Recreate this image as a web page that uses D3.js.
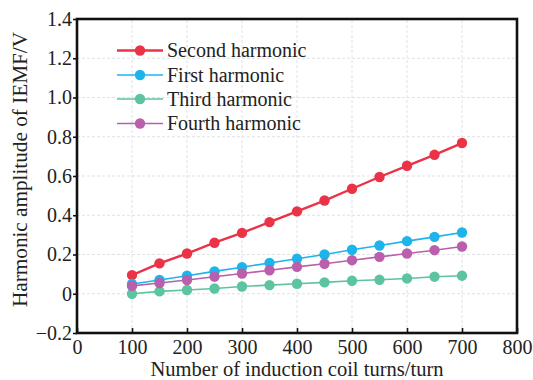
<!DOCTYPE html>
<html>
<head>
<meta charset="utf-8">
<script src="https://cdn.jsdelivr.net/npm/d3@7"></script>
<style>
  html, body { margin: 0; padding: 0; background: #fff; }
  svg { display: block; }
</style>
</head>
<body>
<svg id="chart" width="533" height="380"></svg>
<script>
// Coil turns on the x axis
const turns = [100, 150, 200, 250, 300, 350, 400, 450, 500, 550, 600, 650, 700];

// Harmonic amplitudes of the induced EMF (V)
const secondHarmonic = [0.095, 0.155, 0.205, 0.26, 0.31, 0.365, 0.42, 0.475, 0.535, 0.595, 0.652, 0.708, 0.768];
const firstHarmonic  = [0.05, 0.07, 0.092, 0.114, 0.135, 0.157, 0.178, 0.2, 0.224, 0.246, 0.268, 0.29, 0.312];
const thirdHarmonic  = [0.0, 0.012, 0.019, 0.027, 0.037, 0.044, 0.051, 0.058, 0.066, 0.071, 0.078, 0.087, 0.092];
const fourthHarmonic = [0.04, 0.055, 0.07, 0.087, 0.103, 0.12, 0.137, 0.153, 0.171, 0.188, 0.205, 0.222, 0.241];

const seriesNames  = ["Second harmonic", "First harmonic", "Third harmonic", "Fourth harmonic"];
const seriesValues = [secondHarmonic, firstHarmonic, thirdHarmonic, fourthHarmonic];
const seriesColors = ["#ea3346", "#1db4eb", "#5cc49f", "#b95fab"];
const seriesWidths = [2.4, 1.6, 1.6, 1.6];

const xTicks = [0, 100, 200, 300, 400, 500, 600, 700, 800];
const yTicks = [-0.2, 0, 0.2, 0.4, 0.6, 0.8, 1.0, 1.2, 1.4];

const FONT = "'Liberation Serif', 'Times New Roman', serif";
const margin = { left: 77, right: 16, top: 19, bottom: 47 };
const W = 533, H = 380;

const svg = d3.select("#chart");

const x = d3.scaleLinear().domain([0, 800]).range([margin.left, W - margin.right]);
const y = d3.scaleLinear().domain([-0.2, 1.4]).range([H - margin.bottom, margin.top]);

const fmtY = v => (v === 0 ? "0" : (v < 0 ? "\u2212" + Math.abs(v).toFixed(1) : v.toFixed(1)));

// Dashed grid
const grid = svg.append("g").attr("class", "grid");
grid.selectAll("line.gx")
  .data(xTicks.slice(1, -1))
  .join("line")
  .attr("x1", d => x(d)).attr("x2", d => x(d))
  .attr("y1", y(-0.2)).attr("y2", y(1.4))
  .attr("stroke", "#dde2e5").attr("stroke-width", 1).attr("stroke-dasharray", "3,2");
grid.selectAll("line.gy")
  .data(yTicks.slice(1, -1))
  .join("line")
  .attr("x1", x(0)).attr("x2", x(800))
  .attr("y1", d => y(d)).attr("y2", d => y(d))
  .attr("stroke", "#dde2e5").attr("stroke-width", 1).attr("stroke-dasharray", "3,2");

// Axes: x ticks point into the plot, y ticks point outward
const xAxis = d3.axisBottom(x).tickValues(xTicks).tickSizeInner(-5).tickSizeOuter(0).tickPadding(7).tickFormat(d3.format("d"));
const yAxis = d3.axisLeft(y).tickValues(yTicks).tickSizeInner(4).tickSizeOuter(0).tickPadding(1).tickFormat(fmtY);

const gx = svg.append("g").attr("transform", `translate(0,${y(-0.2)})`).call(xAxis);
const gy = svg.append("g").attr("transform", `translate(${x(0)},0)`).call(yAxis);
[gx, gy].forEach(g => {
  g.select(".domain").remove();
  g.selectAll(".tick line").attr("stroke", "#111").attr("stroke-width", 1.6);
  g.selectAll(".tick text")
    .attr("fill", "#222")
    .style("font-family", FONT)
    .style("font-size", "20px");
});

// Series lines and markers
const line = d3.line().x((d, i) => x(turns[i])).y(d => y(d));
seriesValues.forEach((vals, k) => {
  const g = svg.append("g");
  g.append("path")
    .datum(vals)
    .attr("d", line)
    .attr("fill", "none")
    .attr("stroke", seriesColors[k])
    .attr("stroke-width", seriesWidths[k]);
  g.selectAll("circle")
    .data(vals)
    .join("circle")
    .attr("cx", (d, i) => x(turns[i]))
    .attr("cy", d => y(d))
    .attr("r", 5.2)
    .attr("fill", seriesColors[k]);
});

// Plot frame
svg.append("rect")
  .attr("x", x(0)).attr("y", y(1.4))
  .attr("width", x(800) - x(0)).attr("height", y(-0.2) - y(1.4))
  .attr("fill", "none").attr("stroke", "#111").attr("stroke-width", 2.6);

// Legend
const legend = svg.append("g");
const legY = [50.5, 75, 99, 123.5];
seriesNames.forEach((name, k) => {
  const row = legend.append("g").attr("transform", `translate(117,${legY[k]})`);
  row.append("line").attr("x1", 0).attr("x2", 46).attr("y1", 0).attr("y2", 0)
    .attr("stroke", seriesColors[k]).attr("stroke-width", seriesWidths[k]);
  row.append("circle").attr("cx", 23).attr("cy", 0).attr("r", 5.2).attr("fill", seriesColors[k]);
  row.append("text").attr("x", 50).attr("y", 0).attr("dy", "0.33em")
    .attr("fill", "#222")
    .style("font-family", FONT).style("font-size", "20px")
    .text(name);
});

// Axis titles
svg.append("text")
  .attr("x", (x(0) + x(800)) / 2).attr("y", 376)
  .attr("text-anchor", "middle").attr("fill", "#222")
  .style("font-family", FONT).style("font-size", "20px")
  .attr("textLength", 293).attr("lengthAdjust", "spacingAndGlyphs")
  .text("Number of induction coil turns/turn");

svg.append("text")
  .attr("transform", `translate(27,${(32 + 307) / 2}) rotate(-90)`)
  .attr("text-anchor", "middle").attr("fill", "#222")
  .style("font-family", FONT).style("font-size", "20px")
  .attr("textLength", 275).attr("lengthAdjust", "spacingAndGlyphs")
  .text("Harmonic amplitude of IEMF/V");
</script>
</body>
</html>
